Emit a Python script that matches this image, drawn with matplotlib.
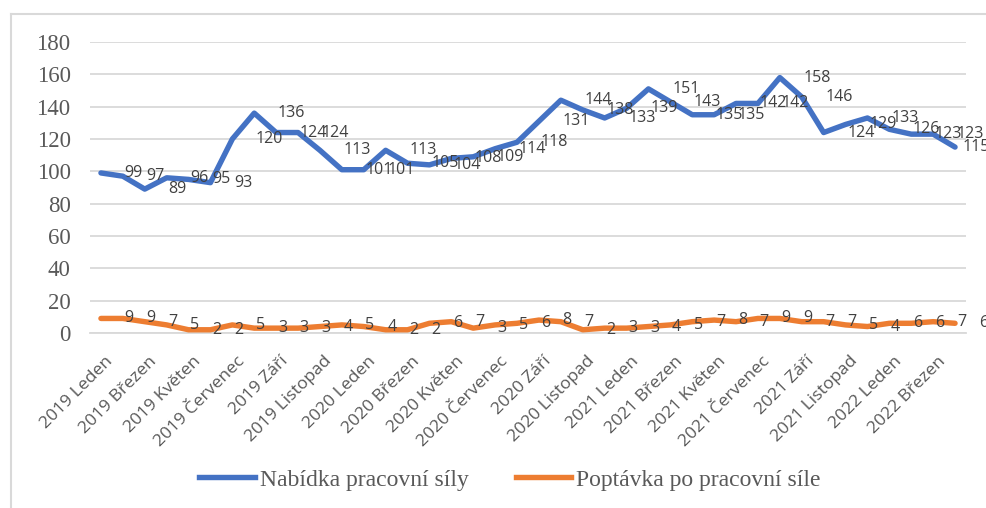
import matplotlib
matplotlib.use("Agg")
import matplotlib.pyplot as plt
from matplotlib.lines import Line2D
from matplotlib.transforms import ScaledTranslation

years = ["2019"] * 12 + ["2020"] * 12 + ["2021"] * 12 + ["2022"] * 4
months = ["Leden", "Únor", "Březen", "Duben", "Květen", "Červen",
          "Červenec", "Srpen", "Září", "Říjen", "Listopad", "Prosinec"] * 3 + \
         ["Leden", "Únor", "Březen", "Duben"]
categories = [f"{y} {m}" for y, m in zip(years, months)]

nabidka = [99, 97, 89, 96, 95, 93, 120, 136, 124, 124, 113, 101, 101, 113,
           105, 104, 108, 109, 114, 118, 131, 144, 138, 133, 139, 151, 143,
           135, 135, 142, 142, 158, 146, 124, 129, 133, 126, 123, 123, 115]
poptavka = [9, 9, 7, 5, 2, 2, 5, 3, 3, 3, 4, 5, 4, 2, 2, 6, 7, 3, 5, 6,
            8, 7, 2, 3, 3, 4, 5, 7, 8, 7, 9, 9, 7, 7, 5, 4, 6, 6, 7, 6]
series_names = ["Nabídka pracovní síly", "Poptávka po pracovní síle"]
yticks = [0, 20, 40, 60, 80, 100, 120, 140, 160, 180]

W, H = 987, 508
fig = plt.figure(figsize=(W / 100, H / 100), dpi=100)
ax = fig.add_axes([90 / W, (H - 333) / H, (966 - 90) / W, (333 - 42) / H])

blue = "#4472C4"
orange = "#ED7D31"
x = list(range(len(categories)))

ax.plot(x, nabidka, color=blue, lw=3.9, solid_capstyle="round",
        solid_joinstyle="round", label=series_names[0], zorder=3)
ax.plot(x, poptavka, color=orange, lw=3.9, solid_capstyle="round",
        solid_joinstyle="round", label=series_names[1], zorder=3)

lab_font = dict(family="Open Sans", size=11.5, color="#404040")
n = len(x)
for i, (xi, v) in enumerate(zip(x, nabidka)):
    dx = 17 if i < n - 1 else 5.5
    ax.annotate(str(v), (xi, v), xytext=(dx, 0), textcoords="offset points",
                ha="left", va="center", annotation_clip=False, zorder=4, **lab_font)
for xi, v in zip(x, poptavka):
    ax.annotate(str(v), (xi, v), xytext=(17, 0), textcoords="offset points",
                ha="left", va="center", annotation_clip=False, zorder=4, **lab_font)

ax.set_xlim(-0.5, len(categories) - 0.5)
ax.set_ylim(0, 180)
ax.set_yticks(yticks)
ax.set_yticklabels([str(t) for t in yticks], family="Liberation Serif",
                   fontsize=16.5, color="#595959")
ax.tick_params(axis="y", length=0, pad=14)
ax.grid(axis="y", color="#d9d9d9", lw=1.3)
ax.set_axisbelow(True)
for s in ["top", "right", "left"]:
    ax.spines[s].set_visible(False)
ax.spines["bottom"].set_color("#d9d9d9")
ax.spines["bottom"].set_linewidth(1.3)

ax.set_xticks(x[::2])
ax.set_xticklabels(categories[::2], rotation=45, ha="right", va="top",
                   rotation_mode="anchor", family="Open Sans", fontsize=12.6,
                   color="#595959")
ax.tick_params(axis="x", length=0, pad=14.5)
shift = ScaledTranslation(4 / 100, 0, fig.dpi_scale_trans)
for lbl in ax.get_xticklabels():
    lbl.set_transform(lbl.get_transform() + shift)

leg = fig.legend(handles=[Line2D([], [], color=blue, lw=3.9),
                          Line2D([], [], color=orange, lw=3.9)],
                 labels=series_names, loc="center",
                 bbox_to_anchor=(510 / W, 1 - 480 / H),
                 ncol=2, frameon=False, handlelength=2.35, handletextpad=0.2,
                 columnspacing=2.0, prop=dict(family="Liberation Serif", size=17))
for t in leg.get_texts():
    t.set_color("#595959")

# chart border (partially visible)
fig.add_artist(Line2D([11 / W, 11 / W], [0, 1 - 14 / H], transform=fig.transFigure,
                      color="#d9d9d9", lw=1.5))
fig.add_artist(Line2D([11 / W, 1], [1 - 14 / H, 1 - 14 / H], transform=fig.transFigure,
                      color="#d9d9d9", lw=1.5))

fig.savefig("out.png", dpi=100)
